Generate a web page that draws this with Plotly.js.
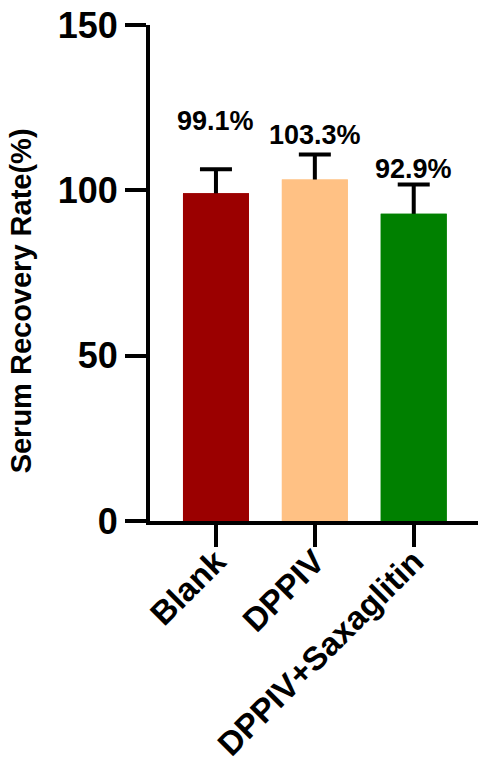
<!DOCTYPE html>
<html>
<head>
<meta charset="utf-8">
<script src="https://cdn.plot.ly/plotly-3.0.1.min.js"></script>
<style>html,body{margin:0;padding:0;background:#fff;}#chart{width:478px;height:773px;}</style>
</head>
<body>
<div id="chart"></div>
<script>
// ---- data ----
const categories = ["Blank", "DPPIV", "DPPIV+Saxaglitin"];
const values = [99.1, 103.3, 92.9];
const errors = [7.3, 7.5, 8.9];
const valueLabels = ["99.1%", "103.3%", "92.9%"];
const yTicks = [0, 50, 100, 150];

// ---- style ----
const barColors = ["#9B0000", "#FFC184", "#008000"];
const labelLift = [14.6, 5.9, 4.6]; // label centre above error cap (axis units)
const FONT = "Liberation Sans, Arial, Helvetica, sans-serif";
const xs = categories.map((c, i) => i);

// bars with symmetric error bars (lower half hidden by the overlay bars)
const errTrace = {
  type: "bar", x: xs, y: values, width: 0.667,
  marker: { color: barColors, line: { width: 0 } },
  error_y: { type: "data", array: errors, color: "#000", thickness: 4, width: 16 },
  hoverinfo: "none"
};
const barTrace = {
  type: "bar", x: xs, y: values, width: 0.667,
  marker: { color: barColors, line: { width: 0 } },
  hoverinfo: "none"
};

const annotations = values.map((v, i) => ({
  x: i, y: v + errors[i] + labelLift[i], xref: "x", yref: "y",
  text: "<b>" + valueLabels[i] + "</b>", showarrow: false,
  xanchor: "center", yanchor: "middle",
  font: { family: FONT, size: 27, color: "#000" }
}));
annotations.push({
  xref: "paper", yref: "paper", x: -0.393, y: 0.443,
  xanchor: "center", yanchor: "middle",
  text: "<b>Serum Recovery Rate(%)</b>", textangle: -90, showarrow: false,
  font: { family: FONT, size: 29, color: "#000" }
});

const layout = {
  width: 478, height: 773,
  margin: { l: 150, r: 0, t: 25, b: 252 },
  paper_bgcolor: "#fff", plot_bgcolor: "#fff",
  showlegend: false,
  barmode: "overlay",
  xaxis: {
    range: [-0.667, 2.65],
    tickvals: xs,
    ticktext: categories.map(c => "<b>" + c + "</b>"),
    tickangle: -45,
    ticks: "outside", ticklen: 22, tickwidth: 4, tickcolor: "#000",
    ticklabelstandoff: -18,
    showline: true, linewidth: 4, linecolor: "#000",
    showgrid: false, zeroline: false,
    tickfont: { family: FONT, size: 33, color: "#000" },
    fixedrange: true
  },
  yaxis: {
    range: [0, 150],
    tickvals: yTicks,
    ticktext: yTicks.map(t => "<b>" + t + "</b>"),
    ticks: "outside", ticklen: 21, tickwidth: 4, tickcolor: "#000",
    showline: true, linewidth: 4, linecolor: "#000",
    showgrid: false, zeroline: false,
    tickfont: { family: FONT, size: 36, color: "#000" },
    fixedrange: true
  },
  annotations: annotations
};

Plotly.newPlot("chart", [errTrace, barTrace], layout, { displayModeBar: false, staticPlot: true });
</script>
</body>
</html>
